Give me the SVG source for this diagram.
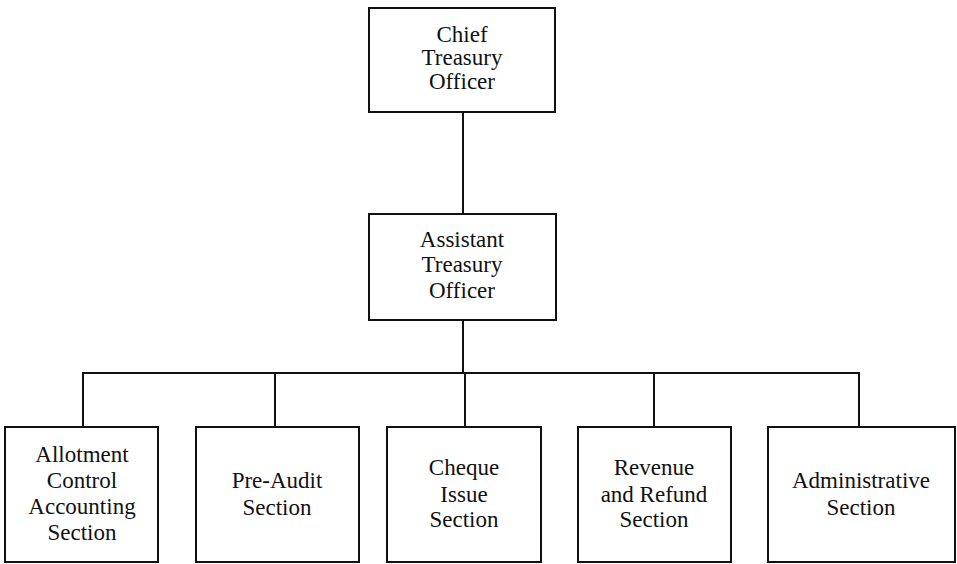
<svg xmlns="http://www.w3.org/2000/svg" width="957" height="564" viewBox="0 0 957 564">
  <style>
    .box { fill: #ffffff; stroke: #111111; stroke-width: 2; }
    .link { fill: none; stroke: #111111; stroke-width: 2; }
    text { font-family: "Liberation Serif", "DejaVu Serif", serif; font-size: 23px; fill: #111111; text-anchor: middle; }
  </style>
  <rect width="957" height="564" fill="#ffffff"/>

  <g id="connectors">
    <line class="link" x1="463" y1="112" x2="463" y2="214"/>
    <line class="link" x1="463" y1="320" x2="463" y2="373"/>
    <line class="link" x1="82" y1="373" x2="860" y2="373"/>
    <line class="link" x1="83" y1="373" x2="83" y2="427"/>
    <line class="link" x1="275" y1="373" x2="275" y2="427"/>
    <line class="link" x1="465" y1="373" x2="465" y2="427"/>
    <line class="link" x1="654" y1="373" x2="654" y2="427"/>
    <line class="link" x1="859" y1="373" x2="859" y2="427"/>
  </g>

  <g id="chief-treasury-officer">
    <rect class="box" x="369" y="8" width="186" height="104"/>
    <text x="462" y="42">Chief</text>
    <text x="462" y="65">Treasury</text>
    <text x="462" y="89">Officer</text>
  </g>

  <g id="assistant-treasury-officer">
    <rect class="box" x="369" y="214" width="187" height="106"/>
    <text x="462" y="247">Assistant</text>
    <text x="462" y="272">Treasury</text>
    <text x="462" y="298">Officer</text>
  </g>

  <g id="allotment-control-accounting-section">
    <rect class="box" x="5" y="427" width="153" height="135"/>
    <text x="82" y="462">Allotment</text>
    <text x="82" y="488">Control</text>
    <text x="82" y="514">Accounting</text>
    <text x="82" y="540">Section</text>
  </g>

  <g id="pre-audit-section">
    <rect class="box" x="196" y="427" width="163" height="135"/>
    <text x="277" y="488">Pre-Audit</text>
    <text x="277" y="515">Section</text>
  </g>

  <g id="cheque-issue-section">
    <rect class="box" x="387" y="427" width="154" height="135"/>
    <text x="464" y="475">Cheque</text>
    <text x="464" y="502">Issue</text>
    <text x="464" y="527">Section</text>
  </g>

  <g id="revenue-and-refund-section">
    <rect class="box" x="578" y="427" width="153" height="135"/>
    <text x="654" y="475">Revenue</text>
    <text x="654" y="502">and Refund</text>
    <text x="654" y="527">Section</text>
  </g>

  <g id="administrative-section">
    <rect class="box" x="768" y="427" width="187" height="135"/>
    <text x="861" y="488">Administrative</text>
    <text x="861" y="515">Section</text>
  </g>
</svg>
